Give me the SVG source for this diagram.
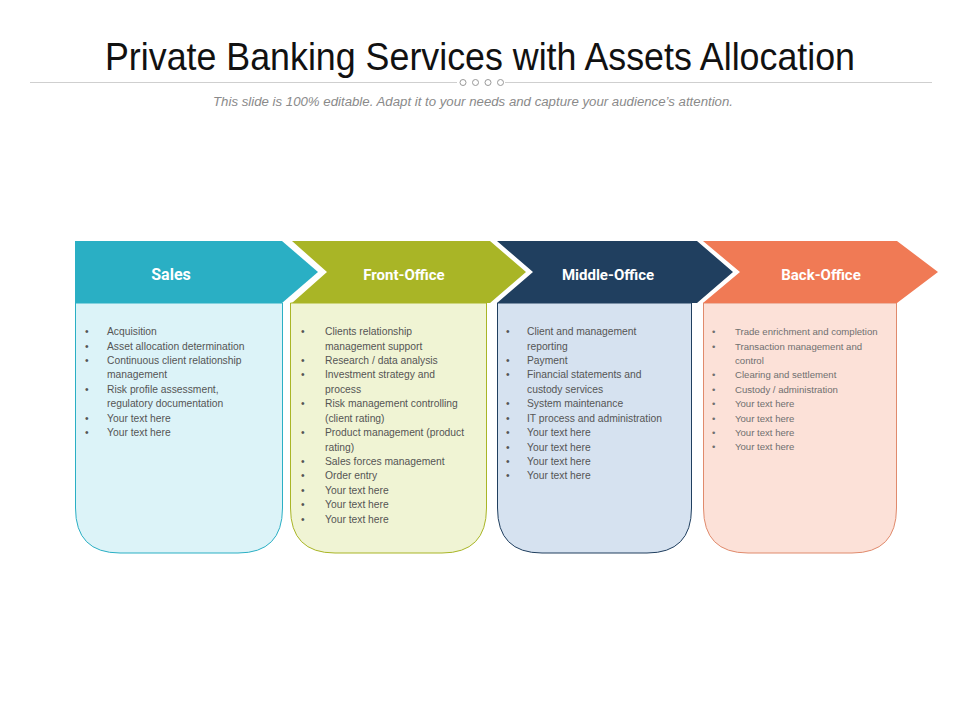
<svg xmlns="http://www.w3.org/2000/svg" width="960" height="720" viewBox="0 0 960 720">
<style>
.title{font-family:"Liberation Sans",Arial,sans-serif;font-size:39px;fill:#111}
.sub{font-family:"Liberation Sans",Arial,sans-serif;font-size:12px;font-style:italic;fill:#8a8a8a}
.hd{font-family:Roboto,"Liberation Sans",sans-serif;font-weight:bold;font-size:15px;fill:#fff;text-anchor:middle}
.li{font-family:"Liberation Sans",Arial,sans-serif;font-size:10.3px;fill:#555}
.li2{font-family:"Liberation Sans",Arial,sans-serif;font-size:9.6px;fill:#707070}
</style>
<rect width="960" height="720" fill="#fff"/>
<text class="title" x="480" y="70" text-anchor="middle" textLength="750" lengthAdjust="spacingAndGlyphs">Private Banking Services with Assets Allocation</text>
<g stroke="#cfcfcf" stroke-width="1" fill="none">
<line x1="30" y1="82.5" x2="457" y2="82.5"/>
<line x1="505" y1="82.5" x2="932" y2="82.5"/>
<circle cx="463" cy="82.5" r="3" fill="#fff" stroke="#999"/>
<circle cx="475.5" cy="82.5" r="3" fill="#fff" stroke="#999"/>
<circle cx="488" cy="82.5" r="3" fill="#fff" stroke="#999"/>
<circle cx="500.5" cy="82.5" r="3" fill="#fff" stroke="#999"/>
</g>
<text class="sub" x="473" y="106" text-anchor="middle" textLength="520" lengthAdjust="spacingAndGlyphs">This slide is 100% editable. Adapt it to your needs and capture your audience’s attention.</text>

<g id="sales">
<path d="M75.5,303 V508 Q75.5,553 120,553 H238 Q282.5,553 282.5,508 V303 Z" fill="#dcf3f8" stroke="#2aafc4" stroke-width="1"/>
<path d="M75,241 H282 L318,272 L282,303 H75 Z" fill="#2aafc4"/>
<text class="hd" x="171" y="280" style="font-size:16px">Sales</text>
<g class="li">
<text x="85" y="335">•</text><text x="107" y="335">Acquisition</text>
<text x="85" y="350">•</text><text x="107" y="350">Asset allocation  determination</text>
<text x="85" y="364">•</text><text x="107" y="364">Continuous client relationship</text>
<text x="107" y="378">management</text>
<text x="85" y="393">•</text><text x="107" y="393">Risk profile assessment,</text>
<text x="107" y="407">regulatory documentation</text>
<text x="85" y="422">•</text><text x="107" y="422">Your text here</text>
<text x="85" y="436">•</text><text x="107" y="436">Your text here</text>
</g>
</g>

<g id="front-office">
<path d="M290.5,303 V508 Q290.5,553 335,553 H442 Q486.5,553 486.5,508 V303 Z" fill="#f0f4d4" stroke="#a9b526" stroke-width="1"/>
<path d="M292,241 H490 L526,272 L490,303 H292 L327,272 Z" fill="#a9b526"/>
<text class="hd" x="404" y="280">Front-Office</text>
<g class="li">
<text x="301" y="335">•</text><text x="325" y="335">Clients relationship</text>
<text x="325" y="350">management support</text>
<text x="301" y="364">•</text><text x="325" y="364">Research / data analysis</text>
<text x="301" y="378">•</text><text x="325" y="378">Investment strategy and</text>
<text x="325" y="393">process</text>
<text x="301" y="407">•</text><text x="325" y="407">Risk management controlling</text>
<text x="325" y="422">(client rating)</text>
<text x="301" y="436">•</text><text x="325" y="436">Product management (product</text>
<text x="325" y="451">rating)</text>
<text x="301" y="465">•</text><text x="325" y="465">Sales forces management</text>
<text x="301" y="479">•</text><text x="325" y="479">Order entry</text>
<text x="301" y="494">•</text><text x="325" y="494">Your text here</text>
<text x="301" y="508">•</text><text x="325" y="508">Your text here</text>
<text x="301" y="523">•</text><text x="325" y="523">Your text here</text>
</g>
</g>

<g id="middle-office">
<path d="M497.5,303 V508 Q497.5,553 542,553 H647 Q691.5,553 691.5,508 V303 Z" fill="#d6e2f0" stroke="#203f5f" stroke-width="1"/>
<path d="M497,241 H697 L733,272 L697,303 H497 L533,272 Z" fill="#203f5f"/>
<text class="hd" x="608" y="280">Middle-Office</text>
<g class="li">
<text x="506" y="335">•</text><text x="527" y="335">Client and management</text>
<text x="527" y="350">reporting</text>
<text x="506" y="364">•</text><text x="527" y="364">Payment</text>
<text x="506" y="378">•</text><text x="527" y="378">Financial  statements and</text>
<text x="527" y="393">custody services</text>
<text x="506" y="407">•</text><text x="527" y="407">System maintenance</text>
<text x="506" y="422">•</text><text x="527" y="422">IT process and administration</text>
<text x="506" y="436">•</text><text x="527" y="436">Your text here</text>
<text x="506" y="451">•</text><text x="527" y="451">Your text here</text>
<text x="506" y="465">•</text><text x="527" y="465">Your text here</text>
<text x="506" y="479">•</text><text x="527" y="479">Your text here</text>
</g>
</g>

<g id="back-office">
<path d="M703.5,303 V508 Q703.5,553 748,553 H852 Q896.5,553 896.5,508 V303 Z" fill="#fce1d8" stroke="#e08a6c" stroke-width="1"/>
<path d="M703,241 H897 L938,272 L897,303 H703 L740,272 Z" fill="#f07a55"/>
<text class="hd" x="821" y="280">Back-Office</text>
<g class="li2">
<text x="712" y="335">•</text><text x="735" y="335">Trade enrichment and completion</text>
<text x="712" y="350">•</text><text x="735" y="350">Transaction management and</text>
<text x="735" y="364">control</text>
<text x="712" y="378">•</text><text x="735" y="378">Clearing and settlement</text>
<text x="712" y="393">•</text><text x="735" y="393">Custody / administration</text>
<text x="712" y="407">•</text><text x="735" y="407">Your text here</text>
<text x="712" y="422">•</text><text x="735" y="422">Your text here</text>
<text x="712" y="436">•</text><text x="735" y="436">Your text here</text>
<text x="712" y="450">•</text><text x="735" y="450">Your text here</text>
</g>
</g>
<g id="connectors"/>
</svg>
